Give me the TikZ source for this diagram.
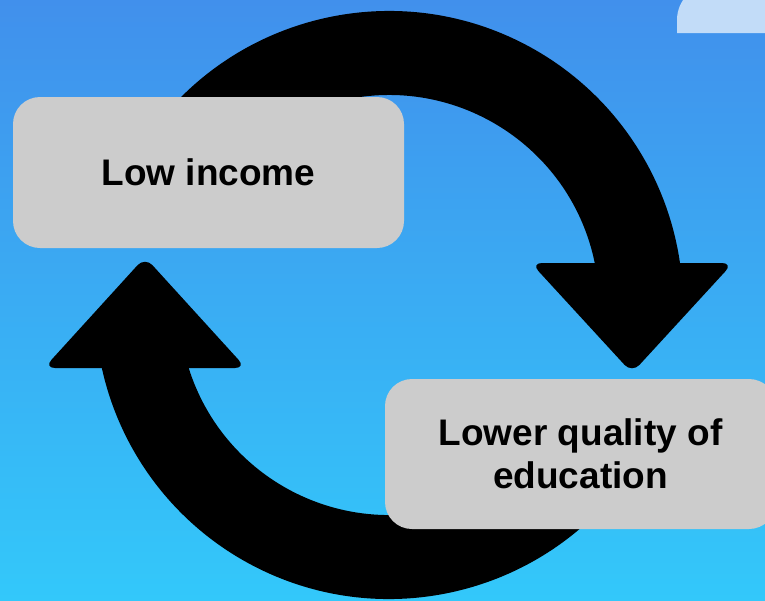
\documentclass[tikz,border=0pt]{standalone}
\usepackage{fontspec}
\setmainfont{Liberation Sans}
\usetikzlibrary{calc}
\definecolor{skytop}{RGB}{65,144,236}
\definecolor{skybottom}{RGB}{51,200,250}
\definecolor{boxgray}{RGB}{204,204,204}
\definecolor{paleblue}{RGB}{194,220,248}
\begin{document}
\begin{tikzpicture}[x=1pt,y=-1pt,
    causebox/.style={fill=boxgray, rounded corners=27pt, minimum width=391pt, minimum height=151pt, align=center, font=\fontsize{37}{43}\selectfont\bfseries},
    headtip/.style={fill=black, rounded corners=11pt}]
      \useasboundingbox (0,0) rectangle (765,600);
      \shade[top color=skytop, bottom color=skybottom] (0,0) rectangle (765,600);
      \fill[paleblue] (677,33) [rounded corners=36pt] -- (677,-16) [sharp corners] -- (800,-16) -- (800,33) -- cycle;
      \coordinate (c) at (389,305);
      % upper arrow, from low income down to education
      \fill[black] ($(c)+(-150:294)$) arc[start angle=-150, end angle=-8.2, radius=294] -- ($(c)+(-11.5:210)$) arc[start angle=-11.5, end angle=-150, radius=210] -- cycle;
      \fill[headtip] (531,263) -- (733,263) -- (632,373) -- cycle;
      % lower arrow, from education back up to low income
      \fill[black] ($(c)+(30:294)$) arc[start angle=30, end angle=167.6, radius=294] -- ($(c)+(162.5:210)$) arc[start angle=162.5, end angle=30, radius=210] -- cycle;
      \fill[headtip] (246,368) -- (44,368) -- (145,257) -- cycle;
      \node[causebox] (low) at (208.5,172.5) {Low income};
      \node[causebox, minimum height=150pt] (edu) at (580.5,454) {Lower quality of\\education};
\end{tikzpicture}
\end{document}
